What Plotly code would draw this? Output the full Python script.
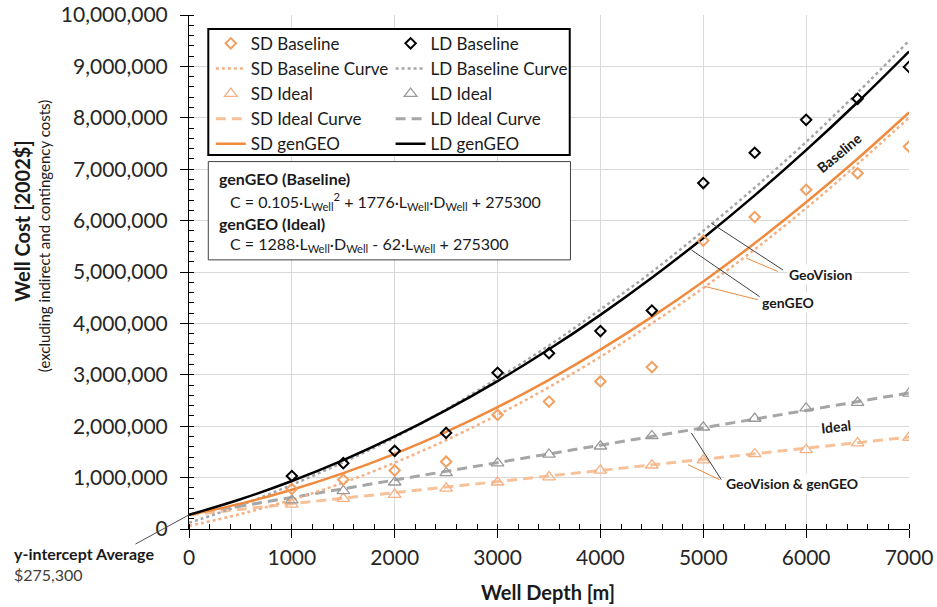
import plotly.graph_objects as go

# ---------------- data ----------------
depth_pts = [1000, 1500, 2000, 2500, 3000, 3500, 4000, 4500, 5000, 5500, 6000, 6500, 7000]
sd_baseline = [780000, 960000, 1140000, 1310000, 2220000, 2480000, 2870000, 3150000,
               5610000, 6070000, 6600000, 6920000, 7440000]
ld_baseline = [1030000, 1280000, 1520000, 1870000, 3040000, 3420000, 3850000, 4250000,
               6730000, 7320000, 7960000, 8370000, 8990000]
sd_ideal = [480000, 590000, 670000, 790000, 910000, 1010000, 1140000, 1240000,
            1340000, 1460000, 1540000, 1670000, 1780000]
ld_ideal = [560000, 740000, 910000, 1090000, 1280000, 1450000, 1610000, 1810000,
            1980000, 2150000, 2350000, 2460000, 2640000]

curve_depth = [0, 500, 1000, 1500, 2000, 2500, 3000, 3500, 4000, 4500, 5000, 5500, 6000, 6500, 7000]
sd_gengeo = [275000, 493000, 764000, 1087000, 1462000, 1890000, 2371000, 2903000,
             3489000, 4127000, 4817000, 5560000, 6356000, 7204000, 8104000]
ld_gengeo = [275000, 578000, 933000, 1340000, 1800000, 2313000, 2878000, 3496000,
             4166000, 4888000, 5663000, 6491000, 7371000, 8303000, 9289000]
sd_base_curve = [60000, 290000, 570000, 900000, 1290000, 1730000, 2220000, 2760000,
                 3350000, 4000000, 4690000, 5440000, 6240000, 7100000, 8000000]
ld_base_curve = [120000, 460000, 860000, 1300000, 1780000, 2330000, 2930000, 3570000,
                 4270000, 5000000, 5800000, 6640000, 7530000, 8490000, 9500000]

ideal_depth = [0, 7000]
sd_ideal_curve = [275000, 1788000]
ld_ideal_curve = [275000, 2647000]

x_ticks = [0, 1000, 2000, 3000, 4000, 5000, 6000, 7000]

# ---------------- styles ----------------
FONT = "Lato"
ORANGE = "#EF8A3E"
ORANGE_MK = "#F0A060"
ORANGE_DOT = "#F4B183"
ORANGE_DASH = "#F7C19A"
GRAY = "#A6A6A6"
BLACK = "#000000"
TXT = "#1a1a1a"

fig = go.Figure()

def line(x, y, name, color, width, dash, legend, rank, shape="spline"):
    fig.add_trace(go.Scatter(x=x, y=y, mode="lines", name=name,
                             line=dict(color=color, width=width, dash=dash, shape=shape),
                             legend=legend, legendrank=rank))

def pts(x, y, name, color, symbol, size, lw, legend, rank):
    fig.add_trace(go.Scatter(x=x, y=y, mode="markers", name=name,
                             marker=dict(symbol=symbol, size=size, color=color,
                                         line=dict(color=color, width=lw)),
                             legend=legend, legendrank=rank))

# curves
line(ideal_depth, ld_ideal_curve, "LD Ideal Curve", GRAY, 3, "10px,6px", "legend2", 4, "linear")
line(ideal_depth, sd_ideal_curve, "SD Ideal Curve", ORANGE_DASH, 3, "10px,6px", "legend", 4, "linear")
line(curve_depth, sd_base_curve, "SD Baseline Curve", ORANGE_DOT, 2.5, "dot", "legend", 2)
line(curve_depth, ld_base_curve, "LD Baseline Curve", GRAY, 2.5, "dot", "legend2", 2)
line(curve_depth, sd_gengeo, "SD genGEO", ORANGE, 2.5, "solid", "legend", 5)
line(curve_depth, ld_gengeo, "LD genGEO", BLACK, 2.5, "solid", "legend2", 5)
# points
pts(depth_pts, sd_ideal, "SD Ideal", ORANGE_DOT, "triangle-up-open", 11, 1.3, "legend", 3)
pts(depth_pts, ld_ideal, "LD Ideal", "#999999", "triangle-up-open", 11, 1.3, "legend2", 3)
pts(depth_pts, sd_baseline, "SD Baseline", ORANGE_MK, "diamond-open", 8, 2, "legend", 1)
pts(depth_pts, ld_baseline, "LD Baseline", BLACK, "diamond-open", 8, 2, "legend2", 1)

# ---------------- annotations ----------------
ann = []
def txt(x, y, t, size=14, bold=True, angle=0, bg="white"):
    ann.append(dict(x=x, y=y, xref="x", yref="y", text=(f"<b>{t}</b>" if bold else t),
                    showarrow=False, textangle=angle, bgcolor=bg, xanchor="center", yanchor="middle",
                    font=dict(size=size, color=TXT, family=FONT)))

txt(6325, 7320000, "Baseline", angle=-40, bg="rgba(0,0,0,0)")
txt(6147, 4960000, "GeoVision")
txt(5820, 4410000, "genGEO")
txt(6293, 1995000, "Ideal", angle=-6)
txt(5863, 880000, "GeoVision &amp; genGEO")

# y-intercept label with leader line
ann.append(dict(x=0, y=275300, xref="x", yref="y", ax=-55, ay=30, axref="pixel", ayref="pixel",
                text="", showarrow=True, arrowhead=0, arrowwidth=1, arrowcolor="#505050", standoff=0))
ann.append(dict(x=-0.2457, y=-0.0675, xref="paper", yref="paper", xanchor="left", yanchor="middle",
                align="left", showarrow=False,
                text="<b>y-intercept Average</b><br><span style='color:#404040'>$275,300</span>",
                font=dict(size=16, color=TXT, family=FONT)))

# axis titles
ann.append(dict(x=-0.2318, y=0.598, xref="paper", yref="paper", showarrow=False, textangle=-90,
                xanchor="center", yanchor="middle",
                text="<b>Well Cost [2002$]</b>", font=dict(size=20, color=TXT, family=FONT)))
ann.append(dict(x=-0.2012, y=0.570, xref="paper", yref="paper", showarrow=False, textangle=-90,
                xanchor="center", yanchor="middle",
                text="(excluding indirect and contingency costs)",
                font=dict(size=15, color=TXT, family=FONT)))
ann.append(dict(x=0.498, y=-0.1219, xref="paper", yref="paper", showarrow=False,
                xanchor="center", yanchor="middle",
                text="<b>Well Depth [m]</b>", font=dict(size=20, color=TXT, family=FONT)))

# formula box text
fx = (217 - 189) / 720.5
fx2 = (228 - 189) / 720.5
def py(p):
    return 1 - (p - 15) / 514.3
def ftxt(x, y, t):
    ann.append(dict(x=x, y=py(y), xref="paper", yref="paper", xanchor="left", yanchor="middle",
                    showarrow=False, text=t, font=dict(size=16, color=TXT, family=FONT)))
ftxt(fx, 178.3, "<b>genGEO (Baseline)</b>")
ftxt(fx2, 201.7, "C = 0.105·L<sub>Well</sub><sup>2</sup> + 1776·L<sub>Well</sub>·D<sub>Well</sub> + 275300")
ftxt(fx, 224, "<b>genGEO (Ideal)</b>")
ftxt(fx2, 244.3, "C = 1288·L<sub>Well</sub>·D<sub>Well</sub> - 62·L<sub>Well</sub> + 275300")

# ---------------- shapes ----------------
shapes = []
def seg(x0, y0, x1, y1, color):
    shapes.append(dict(type="line", xref="x", yref="y", x0=x0, y0=y0, x1=x1, y1=y1,
                       line=dict(color=color, width=1), layer="above"))

seg(5078, 5950000, 5774, 5040000, "#404040")
seg(5418, 5270000, 5725, 5010000, ORANGE)
seg(4884, 5430000, 5548, 4520000, "#404040")
seg(5013, 4720000, 5531, 4460000, ORANGE)
seg(4884, 1870000, 5175, 960000, "#404040")
seg(4851, 1250000, 5159, 960000, ORANGE)

shapes.append(dict(type="rect", xref="paper", yref="paper", x0=0.0268, x1=0.5288, y0=0.7278, y1=0.9728,
                   line=dict(color="black", width=2), fillcolor="white", layer="above"))
shapes.append(dict(type="rect", xref="paper", yref="paper", x0=0.0268, x1=0.5298, y0=0.5236, y1=0.7148,
                   line=dict(color="#404040", width=1), fillcolor="white", layer="above"))

legend_common = dict(bgcolor="rgba(0,0,0,0)", borderwidth=0, font=dict(size=17, family=FONT, color=TXT),
                     xanchor="left", yanchor="top", y=0.979, tracegroupgap=0, itemclick=False)

fig.update_layout(
    width=937, height=607,
    margin=dict(l=189, r=28, t=15, b=78),
    paper_bgcolor="white", plot_bgcolor="white",
    font=dict(family=FONT, color="#262626"),
    showlegend=True,
    legend=dict(x=0.0303, **legend_common),
    legend2=dict(x=0.280, **legend_common),
    annotations=ann,
    shapes=shapes,
    xaxis=dict(range=[0, 7000], tickvals=x_ticks, showgrid=True, gridcolor="#D9D9D9", gridwidth=1,
               showline=True, linecolor="black", linewidth=1, ticks="outside", ticklen=8,
               tickcolor="black", tickfont=dict(size=21, color="#262626"), zeroline=False,
               ticklabelstandoff=2, automargin=False,
               minor=dict(dtick=200, ticks="inside", ticklen=5, tickcolor="black", showgrid=False)),
    yaxis=dict(range=[0, 10000000], dtick=1000000, tickformat=",d", showgrid=True, gridcolor="#D9D9D9",
               gridwidth=1, showline=True, linecolor="black", linewidth=1, ticks="outside", ticklen=8,
               tickcolor="black", tickfont=dict(size=21, color="#262626"), zeroline=False,
               ticklabelstandoff=8, automargin=False,
               minor=dict(dtick=200000, ticks="inside", ticklen=5, tickcolor="black", showgrid=False)),
)

fig.write_html("out.html")
